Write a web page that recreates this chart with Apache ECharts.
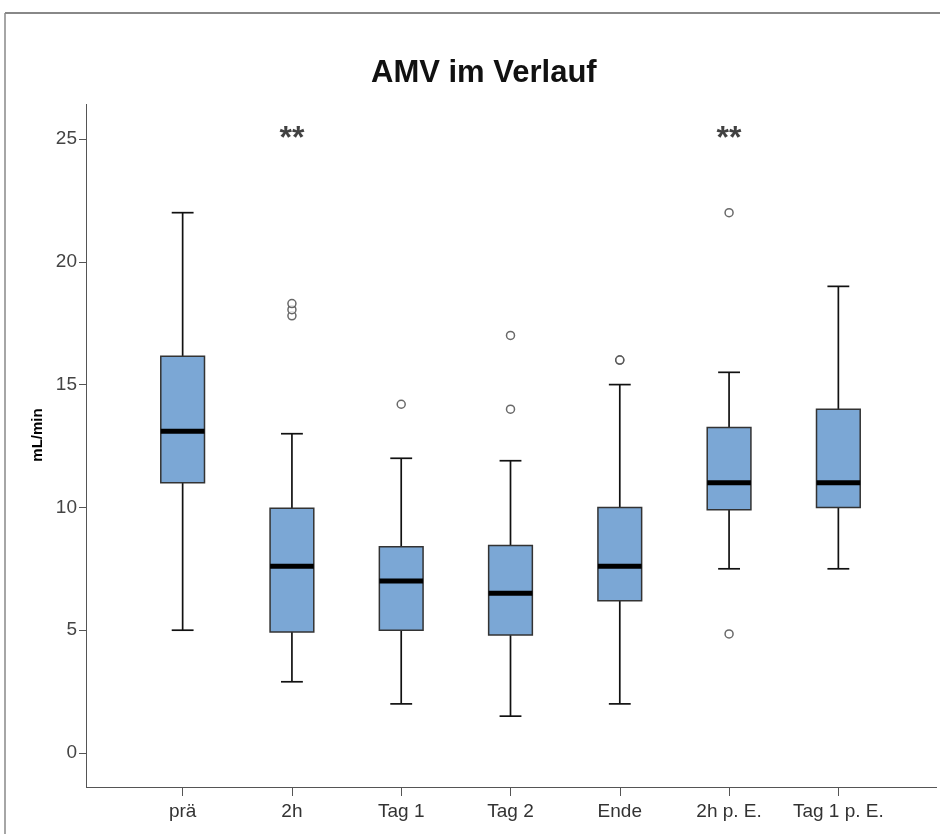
<!DOCTYPE html>
<html>
<head>
<meta charset="utf-8">
<script src="https://cdn.jsdelivr.net/npm/echarts@6/dist/echarts.min.js"></script>
<style>
  html, body { margin: 0; padding: 0; background: #fff; }
  #chart { width: 940px; height: 834px; }
</style>
</head>
<body>
<div id="chart"></div>
<script>
// Kategorien und Kennwerte der Boxplots
var categories = ['prä', '2h', 'Tag 1', 'Tag 2', 'Ende', '2h p. E.', 'Tag 1 p. E.'];
var whiskerLow  = [5.0, 2.9, 2.0, 1.5, 2.0, 7.5, 7.5];
var q1          = [11.0, 4.93, 5.0, 4.8, 6.2, 9.9, 10.0];
var median      = [13.1, 7.6, 7.0, 6.5, 7.6, 11.0, 11.0];
var q3          = [16.15, 9.97, 8.4, 8.45, 10.0, 13.25, 14.0];
var whiskerHigh = [22.0, 13.0, 12.0, 11.9, 15.0, 15.5, 19.0];
// Ausreißer [Kategorie-Index, Wert]
var outliers = [[1, 17.8], [1, 18.05], [1, 18.3], [2, 14.2], [3, 14.0], [3, 17.0],
                [4, 16.0], [4, 16.0], [5, 22.0], [5, 4.85]];
// Signifikanz-Markierungen
var stars = [[1, 25], [5, 25]];
var yTicks = [0, 5, 10, 15, 20, 25];

var boxData = categories.map(function (c, i) {
    return [i, whiskerLow[i], q1[i], median[i], q3[i], whiskerHigh[i]];
});

function renderBox(params, api) {
    var i = api.value(0);
    var band = api.size([1, 0])[0];
    var half = band * 0.2;
    var capHalf = half / 2;
    var pLow = api.coord([i, api.value(1)]);
    var pQ1 = api.coord([i, api.value(2)]);
    var pMed = api.coord([i, api.value(3)]);
    var pQ3 = api.coord([i, api.value(4)]);
    var pHigh = api.coord([i, api.value(5)]);
    var x = pLow[0];
    var line = { stroke: '#111', lineWidth: 1.7 };
    return {
        type: 'group',
        children: [
            { type: 'line', shape: { x1: x, y1: pLow[1], x2: x, y2: pQ1[1] }, style: line },
            { type: 'line', shape: { x1: x, y1: pQ3[1], x2: x, y2: pHigh[1] }, style: line },
            { type: 'line', shape: { x1: x - capHalf, y1: pLow[1], x2: x + capHalf, y2: pLow[1] }, style: line },
            { type: 'line', shape: { x1: x - capHalf, y1: pHigh[1], x2: x + capHalf, y2: pHigh[1] }, style: line },
            { type: 'rect', shape: { x: x - half, y: pQ3[1], width: half * 2, height: pQ1[1] - pQ3[1] },
              style: { fill: '#7ba7d5', stroke: '#333', lineWidth: 1.5 } },
            { type: 'rect', shape: { x: x - half, y: pMed[1] - 2.5, width: half * 2, height: 5 },
              style: { fill: '#000' } }
        ]
    };
}

var chart = echarts.init(document.getElementById('chart'));

var option = {
    backgroundColor: '#fff',
    animation: false,
    title: {
        text: 'AMV im Verlauf',
        left: 366,
        top: 53,
        textStyle: { fontFamily: 'Liberation Sans', fontSize: 31, fontWeight: 'bold', color: '#111' }
    },
    grid: {
        left: 128,
        right: 47,
        top: 139,
        bottom: 81
    },
    xAxis: {
        type: 'category',
        data: categories,
        offset: 34,
        axisLine: { show: true, onZero: false, lineStyle: { color: '#555', width: 1 } },
        axisTick: { show: true, interval: 0, alignWithLabel: true, length: 9, lineStyle: { color: '#555' } },
        axisLabel: { interval: 0, hideOverlap: false, color: '#333', fontSize: 19, margin: 15,
                     fontFamily: 'Liberation Sans' },
        splitLine: { show: false }
    },
    yAxis: {
        type: 'value',
        min: 0,
        max: 25,
        interval: 5,
        offset: 42,
        name: 'mL/min',
        nameLocation: 'middle',
        nameGap: 41,
        nameTextStyle: { fontFamily: 'Liberation Sans', fontSize: 15, fontWeight: 'bold', color: '#000',
                         padding: [0, 0, 0, 22] },
        axisLine: { show: true, lineStyle: { color: '#555', width: 1 } },
        axisTick: { show: true, length: 7, lineStyle: { color: '#555' } },
        axisLabel: {
            color: '#444', fontSize: 19, margin: 9, fontFamily: 'Liberation Sans',
            formatter: function (v) { return yTicks.indexOf(v) >= 0 ? String(v) : ''; }
        },
        splitLine: { show: false }
    },
    graphic: [
        // Rahmen
        { type: 'line', shape: { x1: 5, y1: 13, x2: 940, y2: 13 }, style: { stroke: '#888', lineWidth: 2 } },
        { type: 'line', shape: { x1: 5, y1: 13, x2: 5, y2: 834 }, style: { stroke: '#888', lineWidth: 1.5 } },
        // verlängerte Achsenlinien
        { type: 'line', shape: { x1: 86.5, y1: 104, x2: 86.5, y2: 787 }, style: { stroke: '#555', lineWidth: 1 } },
        { type: 'line', shape: { x1: 86, y1: 787.5, x2: 937, y2: 787.5 }, style: { stroke: '#555', lineWidth: 1 } }
    ],
    series: [
        {
            name: 'Box',
            type: 'custom',
            renderItem: renderBox,
            encode: { x: 0, y: [1, 2, 3, 4, 5] },
            data: boxData,
            z: 2
        },
        {
            name: 'Ausreißer',
            type: 'scatter',
            data: outliers,
            symbol: 'circle',
            symbolSize: 8,
            itemStyle: { color: '#fff', borderColor: '#444', borderWidth: 1.5 },
            z: 3
        },
        {
            name: 'Signifikanz',
            type: 'scatter',
            data: stars,
            symbolSize: 0,
            label: {
                show: true,
                position: 'inside',
                offset: [0, 0],
                formatter: '**',
                fontFamily: 'Liberation Sans',
                fontSize: 32,
                fontWeight: 'bold',
                color: '#111'
            },
            z: 4
        }
    ]
};

chart.setOption(option);
</script>
</body>
</html>
